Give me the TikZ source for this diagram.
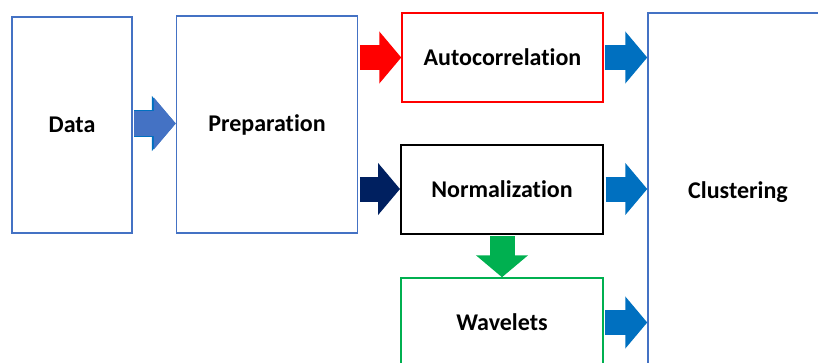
\documentclass[tikz,border=0pt]{standalone}
\usepackage{fontspec}
\setmainfont[Ligatures={NoCommon}]{Carlito}
\usetikzlibrary{arrows.meta}

\definecolor{officeblue}{HTML}{4472C4}
\definecolor{arrowblue}{HTML}{0070C0}
\definecolor{navy}{HTML}{002060}
\definecolor{okgreen}{HTML}{00B050}

\tikzset{
    stage/.style={draw=officeblue, line width=1.5pt, inner sep=0pt,
        font=\fontsize{24}{28}\selectfont\bfseries},
    fat/.style={line width=25pt, -{Triangle[length=22pt, width=51pt]}},
    rimmed/.style={preaction={draw=arrowblue, line width=27pt, -{Triangle[length=24pt, width=54pt]}}}
}

\begin{document}
\begin{tikzpicture}[x=1pt, y=-1pt]
    \useasboundingbox (0, 0) rectangle (818, 362);
    \clip (0, 0) rectangle (818, 362);

    \node[stage, minimum width=120pt, minimum height=216pt] (data) at (72, 125) {Data};
    \node[stage, minimum width=181pt, minimum height=217pt] (prep) at (267, 124.5) {Preparation};
    \node[stage, draw=red, minimum width=201pt, minimum height=89pt] (auto) at (502.5, 57.5) {Autocorrelation};
    \node[stage, draw=black, line width=2pt, minimum width=202pt, minimum height=89pt] (norm) at (502, 189) {Normalization};
    \node[stage, draw=okgreen, minimum width=202pt, minimum height=89pt] (wave) at (502, 322.5) {Wavelets};
    \node[stage, minimum width=180pt, minimum height=358pt] (clust) at (738, 192) {Clustering};

    \draw[fat, rimmed, officeblue] ([shift={(1.5, -1.5)}]data.east) -- ([yshift=1.5pt]data.east -| prep.west);
    \draw[fat, red] ([xshift=1.5pt]prep.east |- auto.west) -- (auto.west);
    \draw[fat, navy] ([xshift=1.5pt]prep.east |- norm.west) -- (norm.west);
    \draw[fat, okgreen] ([yshift=-1.5pt]norm.south) -- (wave.north);

    \draw[fat, arrowblue] ([xshift=1.5pt]auto.east) -- (auto.east -| clust.west);
    \draw[fat, arrowblue] ([xshift=1.5pt]norm.east) -- (norm.east -| clust.west);
    \draw[fat, arrowblue] ([xshift=1.5pt]wave.east) -- (wave.east -| clust.west);
\end{tikzpicture}
\end{document}
